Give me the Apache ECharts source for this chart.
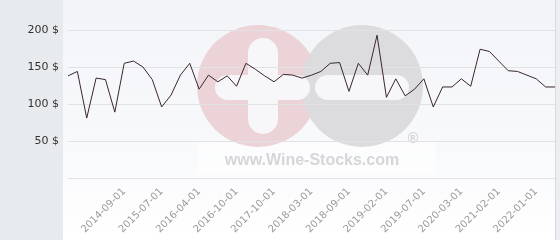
<!DOCTYPE html>
<html>
<head>
<meta charset="utf-8">
<script src="https://cdn.jsdelivr.net/npm/echarts@6/dist/echarts.min.js"></script>
<style>html,body{margin:0;padding:0;background:#fff}#c{width:560px;height:240px}</style>
</head>
<body>
<div id="c"></div>
<script>
const categories = [
 '2013-03-01','2013-06-01','2013-09-01','2013-12-01','2014-03-01','2014-06-01',
 '2014-09-01','2014-11-01','2015-01-01','2015-04-01','2015-07-01','2015-09-01',
 '2015-11-01','2016-02-01','2016-04-01','2016-06-01','2016-08-01','2016-09-01',
 '2016-10-01','2017-01-01','2017-04-01','2017-07-01','2017-10-01','2017-11-01',
 '2017-12-01','2018-02-01','2018-03-01','2018-05-01','2018-06-01','2018-08-01',
 '2018-09-01','2018-10-01','2018-11-01','2019-01-01','2019-02-01','2019-03-01',
 '2019-05-01','2019-06-01','2019-07-01','2019-09-01','2019-11-01','2020-01-01',
 '2020-03-01','2020-06-01','2020-09-01','2020-12-01','2021-02-01','2021-04-01',
 '2021-07-01','2021-10-01','2022-01-01','2022-04-01','2022-07-01'
];
const prices = [
 138,144,81,135,133,89,
 155,158,150,133,96,112,
 139,155,120,139,130,138,
 124,155,147,138,130,140,
 139,135,139,144,155,156,
 117,155,139,193,109,134,
 111,120,134,96,123,123,
 134,124,174,171,158,145,
 144,139,134,123,123
];
const labeledDates = ['2014-09-01','2015-07-01','2016-04-01','2016-10-01','2017-10-01','2018-03-01',
 '2018-09-01','2019-02-01','2019-07-01','2020-03-01','2021-02-01','2022-01-01'];
const yTicks = [0, 50, 100, 150, 200];

const chart = echarts.init(document.getElementById('c'), null, {renderer:'canvas'});
chart.setOption({
  animation: false,
  backgroundColor: '#ffffff',
  graphic: [
    {type:'rect', shape:{x:0,y:0,width:63,height:240}, style:{fill:'#e7ebee'}, z:-10, silent:true},
    {type:'rect', shape:{x:63,y:0,width:493,height:240}, style:{fill:new echarts.graphic.LinearGradient(0,0,0,1,[{offset:0,color:'#f3f4f8'},{offset:0.6,color:'#f8f9fb'},{offset:1,color:'#ffffff'}])}, z:-10, silent:true},
    {type:'rect', shape:{x:556,y:0,width:4,height:240}, style:{fill:'#eceef1'}, z:-10, silent:true},
    {type:'rect', shape:{x:555,y:0,width:1,height:240}, style:{fill:'#d8dadd'}, z:-10, silent:true},
    // watermark
    {type:'rect', shape:{x:198,y:142,width:238,height:32}, style:{fill:'rgba(255,255,255,0.55)'}, z:-9, silent:true},
    {type:'circle', shape:{cx:258,cy:86,r:61}, style:{fill:'#ebd3d8'}, z:-9, silent:true},
    {type:'circle', shape:{cx:362,cy:86,r:61}, style:{fill:'#dcdcdf'}, z:-8, silent:true},
    {type:'rect', shape:{x:248,y:38,width:30,height:96,r:15}, style:{fill:'#f7f7f9'}, z:-7, silent:true},
    {type:'rect', shape:{x:215,y:75,width:95,height:25,r:12.5}, style:{fill:'#f7f7f9'}, z:-7, silent:true},
    {type:'rect', shape:{x:315,y:75,width:94,height:25,r:12.5}, style:{fill:'#f7f7f9'}, z:-7, silent:true},
    {type:'text', x:413, y:139, style:{text:'®', font:'bold 14px "Liberation Sans", Arial, sans-serif', fill:'#d3d3d6', align:'center', verticalAlign:'middle'}, z:-7, silent:true},
    {type:'text', x:312, y:161, style:{text:'www.Wine-Stocks.com', font:'bold 16px "Liberation Sans", Arial, sans-serif', fill:'#d6d6d9', align:'center', verticalAlign:'middle'}, z:-7, silent:true}
  ],
  grid: {left:68, right:5, top:30, bottom:62, containLabel:false},
  xAxis: {
    type:'category', data:categories, boundaryGap:false,
    axisLine:{show:false}, axisTick:{show:false},
    axisLabel:{
      rotate:45, margin:12, color:'#9a9a9a', fontSize:10,
      fontFamily:'"DejaVu Sans", sans-serif',
      interval:(i, v) => labeledDates.includes(v)
    },
    splitLine:{show:false}
  },
  yAxis: {
    type:'value', min:yTicks[0], max:yTicks[yTicks.length-1], interval:50,
    axisLine:{show:false}, axisTick:{show:false},
    axisLabel:{formatter:'{value} $', color:'#333333', fontSize:11, margin:9, showMinLabel:false, fontFamily:'"DejaVu Sans", sans-serif'},
    splitLine:{lineStyle:{color:'#e2e2e4', width:1}}
  },
  series: [{
    type:'line', data:prices, symbol:'none',
    lineStyle:{color:'#3a2630', width:1},
    z:5
  }]
});
</script>
</body>
</html>
